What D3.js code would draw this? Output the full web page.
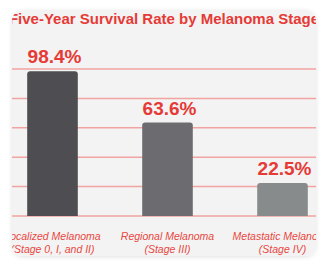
<!DOCTYPE html>
<html>
<head>
<meta charset="utf-8">
<script src="https://cdn.jsdelivr.net/npm/d3@7"></script>
<style>
  html, body { margin: 0; padding: 0; background: #ffffff; }
  svg { display: block; font-family: "Liberation Sans", Arial, Helvetica, sans-serif; }
</style>
</head>
<body>
<div id="chart"></div>
<script>
const stages = ["Localized Melanoma", "Regional Melanoma", "Metastatic Melanoma"];
const stageNotes = ["(Stage 0, I, and II)", "(Stage III)", "(Stage IV)"];
const survival = [98.4, 63.6, 22.5];
const barColors = ["#4d4d52", "#6c6c70", "#878b8b"];
const gridTicks = [0, 20, 40, 60, 80, 100];

const width = 326, height = 262;
const panel = { x: 12, y: 10, w: 304, h: 246 };
const red = "#e63a36";

const svg = d3.select("#chart")
  .append("svg")
  .attr("width", width)
  .attr("height", height);

// soft shadow behind the card
const defs = svg.append("defs");
const shadow = defs.append("filter").attr("id", "shadow")
  .attr("x", "-10%").attr("y", "-10%").attr("width", "120%").attr("height", "120%");
shadow.append("feDropShadow")
  .attr("dx", 0).attr("dy", 1).attr("stdDeviation", 2)
  .attr("flood-color", "#000").attr("flood-opacity", 0.12);

defs.append("clipPath").attr("id", "card")
  .append("rect")
  .attr("x", panel.x).attr("y", panel.y)
  .attr("width", panel.w).attr("height", panel.h)
  .attr("rx", 11);

svg.append("rect")
  .attr("x", panel.x).attr("y", panel.y)
  .attr("width", panel.w).attr("height", panel.h)
  .attr("rx", 11)
  .attr("fill", "#f3f3f3")
  .attr("filter", "url(#shadow)");

const g = svg.append("g").attr("clip-path", "url(#card)");

const x = d3.scaleBand()
  .domain(stages)
  .range([-5, 340])
  .paddingInner(0.56)
  .paddingOuter(0.28);

const y = d3.scaleLinear()
  .domain([0, 100])
  .range([216, 69]);

// grid lines
g.selectAll("line.grid")
  .data(gridTicks)
  .enter()
  .append("line")
  .attr("class", "grid")
  .attr("x1", panel.x)
  .attr("x2", panel.x + panel.w)
  .attr("y1", d => y(d))
  .attr("y2", d => y(d))
  .attr("stroke", "#f1a3a1")
  .attr("stroke-width", 1.5);

// bars with rounded top corners
function barPath(x0, w, top, bottom, r) {
  return `M${x0},${bottom} V${top + r} Q${x0},${top} ${x0 + r},${top} ` +
    `H${x0 + w - r} Q${x0 + w},${top} ${x0 + w},${top + r} V${bottom} Z`;
}

g.selectAll("path.bar")
  .data(survival)
  .enter()
  .append("path")
  .attr("class", "bar")
  .attr("d", (d, i) => barPath(x(stages[i]), x.bandwidth(), y(d), y(0), 3))
  .attr("fill", (d, i) => barColors[i]);

// value labels
g.selectAll("text.value")
  .data(survival)
  .enter()
  .append("text")
  .attr("class", "value")
  .attr("x", (d, i) => x(stages[i]) + x.bandwidth() / 2 + 2)
  .attr("y", d => y(d) - 8)
  .attr("text-anchor", "middle")
  .attr("fill", red)
  .style("font-size", "19px")
  .style("font-weight", "bold")
  .text(d => d + "%");

// category labels
const cat = g.selectAll("text.cat")
  .data(stages)
  .enter()
  .append("text")
  .attr("class", "cat")
  .attr("text-anchor", "middle")
  .attr("fill", "#e8473f")
  .style("font-size", "10.5px")
  .style("font-style", "italic");

cat.append("tspan")
  .attr("x", d => x(d) + x.bandwidth() / 2)
  .attr("y", 240)
  .text(d => d);

cat.append("tspan")
  .attr("x", d => x(d) + x.bandwidth() / 2)
  .attr("y", 253)
  .text((d, i) => stageNotes[i]);

// title
g.append("text")
  .attr("x", 164)
  .attr("y", 23.5)
  .attr("text-anchor", "middle")
  .attr("fill", red)
  .style("font-size", "15px")
  .style("font-weight", "bold")
  .text("Five-Year Survival Rate by Melanoma Stage");
</script>
</body>
</html>
